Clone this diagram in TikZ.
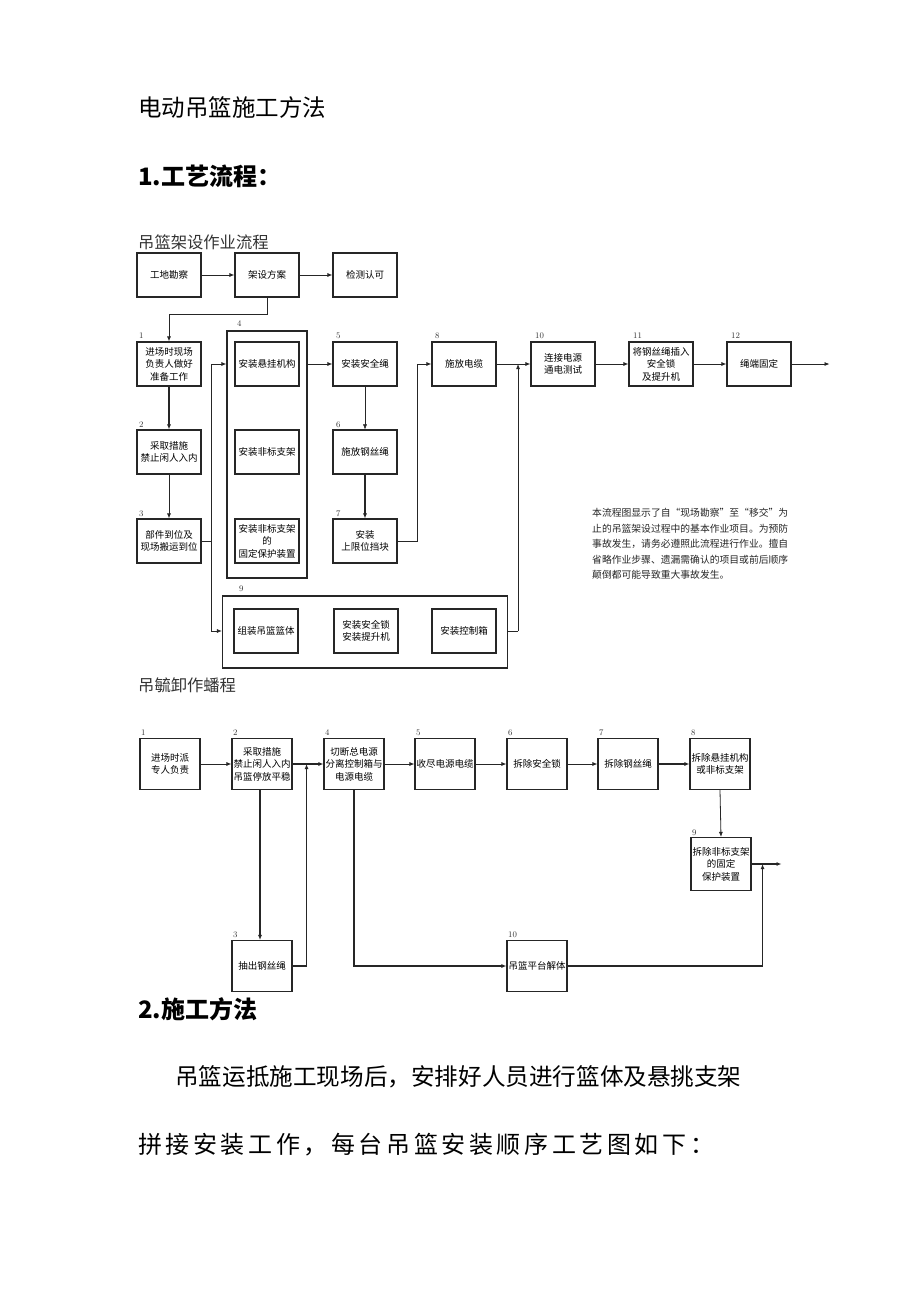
\documentclass[tikz,border=0pt]{standalone}
\usepackage{fontspec}
\newfontfamily\cjk{Noto Sans CJK SC}
\newfontfamily\cjkwide[LetterSpace=15]{Noto Sans CJK SC}
\usetikzlibrary{arrows.meta,calc}
\tikzset{
  bx/.style={draw=black!85, line width=1.1pt, minimum width=64pt, minimum height=44pt, inner sep=1pt, align=center, font=\cjk\fontsize{9.5}{12.5}\selectfont},
  bxs/.style={bx, minimum width=60pt, minimum height=51pt},
  outer/.style={draw=black!85, line width=1.1pt, inner sep=0pt},
  lbl/.style={font=\fontsize{8.5}{9}\selectfont, text=black!80, anchor=south west, inner sep=0pt},
  ar/.style={-{Latex[length=5pt,width=4pt]}, line width=0.8pt, draw=black!85},
  ln/.style={line width=0.8pt, draw=black!85},
  thk/.style={line width=1.8pt},
  head/.style={anchor=west, inner sep=0pt, font=\cjk\fontsize{23.5}{24}\selectfont},
  bhead/.style={anchor=west, inner sep=0pt, font=\cjk\bfseries\fontsize{24}{24}\selectfont},
}
\begin{document}
\begin{tikzpicture}[x=1pt,y=-1pt]
\useasboundingbox (0,0) rectangle (920,1302);
\fill[white] (0,0) rectangle (920,1302);

% headings
\node[head] (title) at (138,108) {电动吊篮施工方法};
\node[bhead] (h1) at (138,176) {1.工艺流程：};
\node[anchor=west, inner sep=0pt, text=black!80, font=\cjk\fontsize{16.3}{17}\selectfont] (sub1) at (138,242) {吊篮架设作业流程};

% ---------- top flow ----------
\node[bx] (A) at (169,275) {工地勘察};
\node[bx] (B) at (267,275) {架设方案};
\node[bx] (C) at (365,275) {检测认可};

\node[bx] (N1) at (169,364) {进场时现场\\负责人做好\\准备工作};
\node[bx] (N2) at (169,452) {采取措施\\禁止闲人入内};
\node[bx] (N3) at (169,541) {部件到位及\\现场搬运到位};

\node[outer, minimum width=80pt, minimum height=247pt] (N4) at (267,454.5) {};
\node[bx] (N4a) at (267,364) {安装悬挂机构};
\node[bx] (N4b) at (267,452) {安装非标支架};
\node[bx] (N4c) at (267,541) {安装非标支架\\的\\固定保护装置};

\node[bx] (N5) at (365,364) {安装安全绳};
\node[bx] (N6) at (365,452) {施放钢丝绳};
\node[bx] (N7) at (365,541) {安装\\上限位挡块};

\node[bx] (N8) at (464,364) {施放电缆};
\node[bx] (N10) at (563,364) {连接电源\\通电测试};
\node[bx] (N11) at (661,364) {将钢丝绳插入\\安全锁\\及提升机};
\node[bx] (N12) at (759,364) {绳端固定};

\node[outer, minimum width=285pt, minimum height=72pt] (N9) at (365,632) {};
\node[bx] (N9a) at (266,631) {组装吊篮篮体};
\node[bx] (N9b) at (366,631) {安装安全锁\\安装提升机};
\node[bx] (N9c) at (464,631) {安装控制箱};

% labels top
\node[lbl] at (139,339) {1};
\node[lbl] at (139,428) {2};
\node[lbl] at (139,517) {3};
\node[lbl] at (237,327) {4};
\node[lbl] at (336,339) {5};
\node[lbl] at (336,428) {6};
\node[lbl] at (336,517) {7};
\node[lbl] at (435,339) {8};
\node[lbl] at (535,339) {10};
\node[lbl] at (633,339) {11};
\node[lbl] at (731,339) {12};
\node[lbl] at (239,592) {9};

% connectors top
\draw[ar] (A) -- (B);
\draw[ar] (B) -- (C);
\draw[ar] (B.south) -- ++(0,17) -| (N1.north);
\draw[ar, line width=1.2pt] (N1) -- (N2);
\draw[ar] (N2) -- (N3);
\draw[ln] (N3.east) -- ++(10,0) coordinate (j3);
\draw[ar] (j3) |- (N4.west |- N4a.west);
\draw[ar] (j3) |- (N9.west |- N9a.west);
\draw[ar] (N4.east |- N5.west) -- (N5.west);
\draw[ar, line width=0.5pt] (N5) -- (N6);
\draw[ar, line width=1.2pt] (N6) -- (N7);
\draw[ar] (N7.east) -- ++(20,0) |- (N8.west);
\draw[ar] (N8) -- (N10);
\draw[ln] (N9.east |- N9c.east) -- ++(10,0) coordinate (j9);
\draw[ar] (j9) -- (j9 |- N8.east);
\draw[ar] (N10) -- (N11);
\draw[ar] (N11) -- (N12);
\draw[ar] (N12.east) -- ++(38,0) coordinate (out1);

% note
\node[anchor=north west, inner sep=0pt, align=left, text=black!85, font=\cjk\fontsize{9.8}{15.5}\selectfont] (note) at (592,508)
{本流程图显示了自“现场勘察”至“移交”为\\止的吊篮架设过程中的基本作业项目。为预防\\事故发生，请务必遵照此流程进行作业。擅自\\省略作业步骤、遗漏需确认的项目或前后顺序\\颠倒都可能导致重大事故发生。};

% ---------- bottom flow ----------
\node[anchor=west, inner sep=0pt, text=black!80, font=\cjk\fontsize{16.3}{17}\selectfont] (sub2) at (138,685) {吊毓卸作蟠程};

\node[bxs] (b1) at (170,764) {进场时派\\专人负责};
\node[bxs] (b2) at (262,764) {采取措施\\禁止闲人入内\\吊篮停放平稳};
\node[bxs] (b4) at (354,764) {切断总电源\\分离控制箱与\\电源电缆};
\node[bxs] (b5) at (445,764) {收尽电源电缆};
\node[bxs] (b6) at (537,764) {拆除安全锁};
\node[bxs] (b7) at (628,764) {拆除钢丝绳};
\node[bxs] (b8) at (720,764) {拆除悬挂机构\\或非标支架};
\node[bxs, minimum height=53pt] (b9) at (721,864) {拆除非标支架\\的固定\\保护装置};
\node[bxs] (b3) at (262,966) {抽出钢丝绳};
\node[bxs] (b10) at (537,966) {吊篮平台解体};

\node[lbl] at (141,736) {1};
\node[lbl] at (233,736) {2};
\node[lbl] at (325,736) {4};
\node[lbl] at (416,736) {5};
\node[lbl] at (508,736) {6};
\node[lbl] at (599,736) {7};
\node[lbl] at (691,736) {8};
\node[lbl] at (692,836) {9};
\node[lbl] at (233,938) {3};
\node[lbl] at (508,938) {10};

\draw[ar] (b1) -- (b2);
\draw[ar, thk] (b2) -- (b4);
\draw[ar] (b4) -- (b5);
\draw[ar] (b5) -- (b6);
\draw[ar] (b6) -- (b7);
\draw[ar, thk] (b7) -- (b8);
\draw[ar, line width=1.2pt] ([xshift=-2pt]b2.south) -- ([xshift=-2pt]b3.north);
\draw[ln, line width=1.2pt] (b3.east) -- ++(14,0) coordinate (j3b);
\draw[ar, line width=1.2pt] (j3b) -- (j3b |- b2.east);
\draw[ar, line width=1.2pt] (b4.south) |- (b10.west);
\draw[ar] (b8.south) -- (b9.north);
\draw[ar, line width=1.2pt] (b9.east) -- ++(30,0) coordinate (out2);
\draw[ln, line width=1.2pt] (b10.east) -- ++(195,0) coordinate (j10);
\draw[ar, line width=1.2pt] (j10) -- (j10 |- b9.east);

% ---------- section 2 ----------
\node[bhead] (h2) at (138,1009) {2.施工方法};
\node[anchor=west, inner sep=0pt, font=\cjk\fontsize{23.6}{24}\selectfont] (p1) at (175,1077) {吊篮运抵施工现场后，安排好人员进行篮体及悬挑支架};
\node[anchor=west, inner sep=0pt, font=\cjkwide\fontsize{24}{24}\selectfont] (p2) at (138,1145) {拼接安装工作，每台吊篮安装顺序工艺图如下：};
\end{tikzpicture}
\end{document}
